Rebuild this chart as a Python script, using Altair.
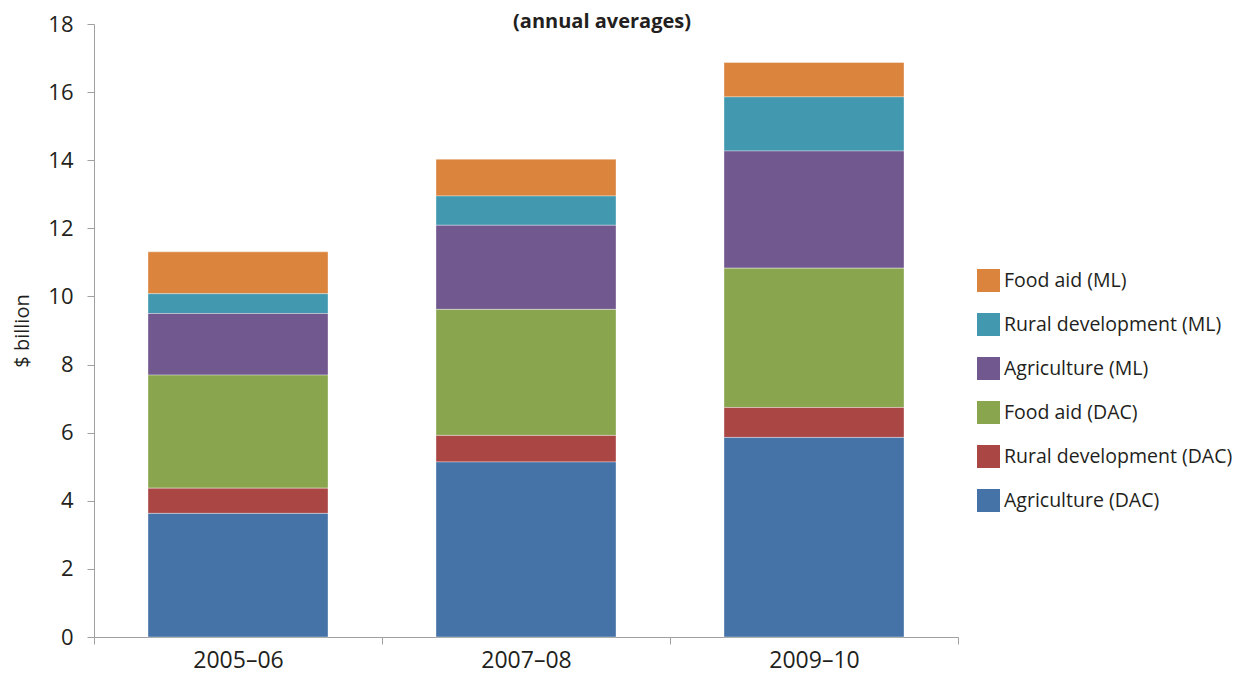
import altair as alt
import pandas as pd

periods = ["2005–06", "2007–08", "2009–10"]
series = [
    "Food aid (ML)",
    "Rural development (ML)",
    "Agriculture (ML)",
    "Food aid (DAC)",
    "Rural development (DAC)",
    "Agriculture (DAC)",
]
colors = ["#DB843D", "#4198AF", "#71588F", "#89A54E", "#AA4643", "#4572A7"]

agri_dac = [3.63, 5.14, 5.86]
rural_dac = [0.74, 0.78, 0.88]
food_dac = [3.32, 3.70, 4.09]
agri_ml = [1.81, 2.47, 3.44]
rural_ml = [0.58, 0.86, 1.59]
food_ml = [1.23, 1.08, 1.01]

values_by_series = {
    "Food aid (ML)": food_ml,
    "Rural development (ML)": rural_ml,
    "Agriculture (ML)": agri_ml,
    "Food aid (DAC)": food_dac,
    "Rural development (DAC)": rural_dac,
    "Agriculture (DAC)": agri_dac,
}

rows = []
for s in series:
    stack_pos = len(series) - 1 - series.index(s)  # Agriculture (DAC) at bottom
    for p, v in zip(periods, values_by_series[s]):
        rows.append({"period": p, "series": s, "value": v, "stackpos": stack_pos})
df = pd.DataFrame(rows)

FONT = "Open Sans"
TEXT = "#231f20"
AXIS = "#a0a0a0"

chart = (
    alt.Chart(df)
    .mark_bar(
        width=alt.RelativeBandSize(0.625),
        stroke="#ffffff",
        strokeWidth=0.6,
        strokeOpacity=0.6,
    )
    .encode(
        x=alt.X(
            "period:N",
            sort=periods,
            scale=alt.Scale(paddingInner=0, paddingOuter=0),
            axis=alt.Axis(
                title=None,
                labelAngle=0,
                tickBand="extent",
                labelFontSize=23,
                labelFont=FONT,
                labelColor=TEXT,
                labelPadding=5,
                tickSize=7,
                tickColor=AXIS,
                domainColor=AXIS,
                grid=False,
            ),
        ),
        y=alt.Y(
            "value:Q",
            stack="zero",
            scale=alt.Scale(domain=[0, 18], nice=False),
            axis=alt.Axis(
                title="$ billion",
                values=list(range(0, 19, 2)),
                titleFont=FONT,
                titleFontSize=20,
                titleFontWeight="normal",
                titleColor=TEXT,
                titlePadding=15,
                labelFontSize=22,
                labelFont=FONT,
                labelColor=TEXT,
                labelPadding=14,
                tickSize=7,
                tickColor=AXIS,
                domainColor=AXIS,
                grid=False,
            ),
        ),
        color=alt.Color(
            "series:N",
            scale=alt.Scale(domain=series, range=colors),
            legend=alt.Legend(
                title=None,
                orient="none",
                legendX=883,
                legendY=245,
                symbolType="square",
                symbolSize=529,
                symbolStrokeWidth=0,
                symbolOpacity=1,
                labelFont=FONT,
                labelFontSize=19.5,
                labelColor=TEXT,
                labelOffset=4,
                rowPadding=21,
                labelLimit=400,
            ),
        ),
        order=alt.Order("stackpos:Q", sort="ascending"),
    )
    .properties(
        width=864,
        height=613,
        title=alt.TitleParams(
            text="(annual averages)",
            font=FONT,
            fontSize=20,
            fontWeight="bold",
            color=TEXT,
            anchor="middle",
            dx=76,
            offset=-19,
        ),
        autosize=alt.AutoSizeParams(type="none"),
        padding={"left": 86, "top": 16, "right": 274, "bottom": 42},
    )
    .configure_view(stroke=None)
)

chart.save("out.html", embed_options={"renderer": "svg", "actions": False})
